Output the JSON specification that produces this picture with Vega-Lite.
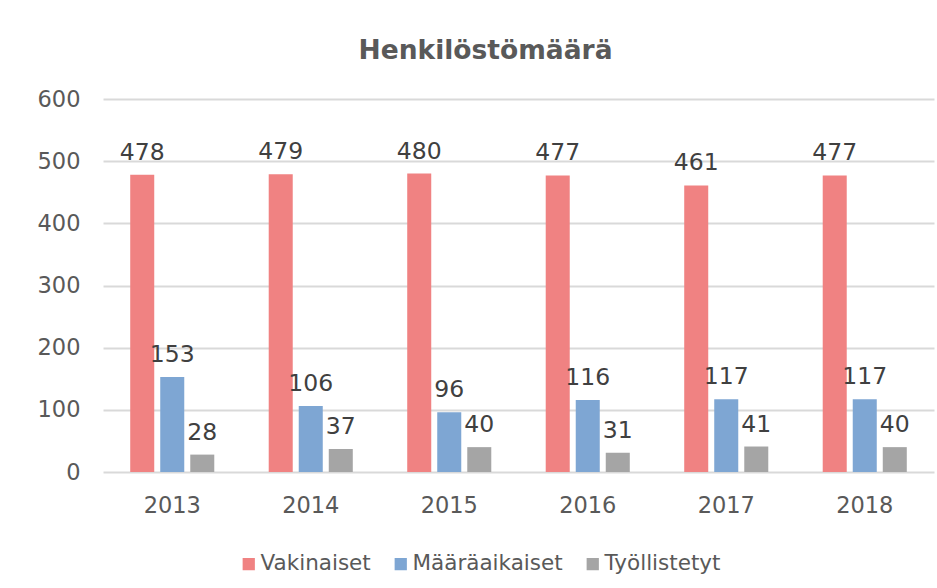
{
  "$schema": "https://vega.github.io/schema/vega-lite/v6.json",
  "width": 831,
  "height": 373,
  "padding": {"left": 37, "top": 37, "right": 3, "bottom": 5},
  "background": "white",
  "title": {
    "text": "Henkilöstömäärä",
    "font": "DejaVu Sans",
    "fontSize": 26.5,
    "fontWeight": "bold",
    "color": "#595959",
    "anchor": "middle",
    "frame": "bounds",
    "offset": 24
  },
  "data": {
    "values": [
      {"vuosi": "2013", "ryhma": "Vakinaiset", "arvo": 478},
      {"vuosi": "2013", "ryhma": "Määräaikaiset", "arvo": 153},
      {"vuosi": "2013", "ryhma": "Työllistetyt", "arvo": 28},
      {"vuosi": "2014", "ryhma": "Vakinaiset", "arvo": 479},
      {"vuosi": "2014", "ryhma": "Määräaikaiset", "arvo": 106},
      {"vuosi": "2014", "ryhma": "Työllistetyt", "arvo": 37},
      {"vuosi": "2015", "ryhma": "Vakinaiset", "arvo": 480},
      {"vuosi": "2015", "ryhma": "Määräaikaiset", "arvo": 96},
      {"vuosi": "2015", "ryhma": "Työllistetyt", "arvo": 40},
      {"vuosi": "2016", "ryhma": "Vakinaiset", "arvo": 477},
      {"vuosi": "2016", "ryhma": "Määräaikaiset", "arvo": 116},
      {"vuosi": "2016", "ryhma": "Työllistetyt", "arvo": 31},
      {"vuosi": "2017", "ryhma": "Vakinaiset", "arvo": 461},
      {"vuosi": "2017", "ryhma": "Määräaikaiset", "arvo": 117},
      {"vuosi": "2017", "ryhma": "Työllistetyt", "arvo": 41},
      {"vuosi": "2018", "ryhma": "Vakinaiset", "arvo": 477},
      {"vuosi": "2018", "ryhma": "Määräaikaiset", "arvo": 117},
      {"vuosi": "2018", "ryhma": "Työllistetyt", "arvo": 40}
    ]
  },
  "encoding": {
    "x": {
      "field": "vuosi",
      "type": "nominal",
      "title": null,
      "scale": {"paddingInner": 0.393, "paddingOuter": 0.1965},
      "axis": {
        "labelAngle": 0,
        "labelFont": "DejaVu Sans",
        "labelFontSize": 22.5,
        "labelColor": "#595959",
        "labelPadding": 22,
        "ticks": false,
        "domain": false,
        "grid": false
      }
    },
    "xOffset": {
      "field": "ryhma",
      "type": "nominal",
      "sort": ["Vakinaiset", "Määräaikaiset", "Työllistetyt"],
      "scale": {"paddingInner": 0.2, "paddingOuter": 0}
    },
    "y": {
      "field": "arvo",
      "type": "quantitative",
      "title": null,
      "scale": {"domain": [0, 600], "nice": false},
      "axis": {
        "values": [0, 100, 200, 300, 400, 500, 600],
        "labelFont": "DejaVu Sans",
        "labelFontSize": 22.5,
        "labelColor": "#595959",
        "labelPadding": 23,
        "ticks": false,
        "domain": false,
        "gridColor": "#D9D9D9",
        "gridWidth": 2
      }
    }
  },
  "layer": [
    {
      "mark": {"type": "bar"},
      "encoding": {
        "color": {
          "field": "ryhma",
          "type": "nominal",
          "sort": ["Vakinaiset", "Määräaikaiset", "Työllistetyt"],
          "scale": {
            "domain": ["Vakinaiset", "Määräaikaiset", "Työllistetyt"],
            "range": ["#F08282", "#7EA6D3", "#A5A5A5"]
          },
          "legend": {
            "title": null,
            "orient": "none",
            "legendX": 135,
            "legendY": 454,
            "direction": "horizontal",
            "symbolType": "square",
            "symbolSize": 150,
            "symbolStrokeWidth": 0,
            "symbolOffset": 0,
            "labelOffset": 1,
            "labelFont": "DejaVu Sans",
            "labelFontSize": 21.5,
            "labelColor": "#595959",
            "columnPadding": 19
          }
        }
      }
    },
    {
      "mark": {
        "type": "text",
        "baseline": "alphabetic",
        "dy": -15,
        "font": "DejaVu Sans",
        "fontSize": 23.5,
        "color": "#404040"
      },
      "encoding": {
        "text": {"field": "arvo", "type": "quantitative"}
      }
    }
  ],
  "config": {
    "view": {"stroke": null}
  }
}
